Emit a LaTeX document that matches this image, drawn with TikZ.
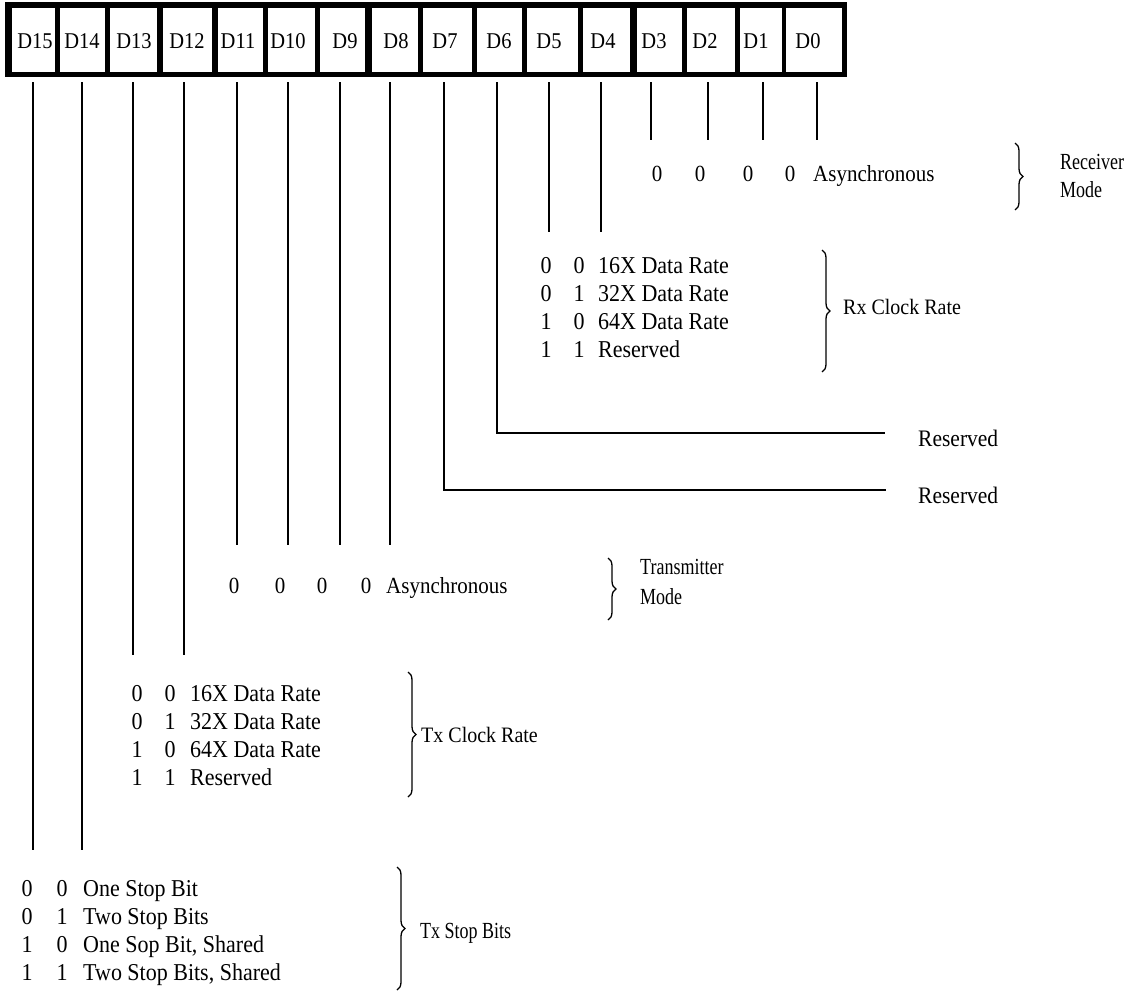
\documentclass[tikz,border=0pt]{standalone}
\usepackage{fontspec}
\usepackage{graphicx}
\setmainfont{Liberation Serif}
\usetikzlibrary{decorations.pathreplacing}
\newcommand\stx[1]{\scalebox{1}[1.1]{#1}}
\newcommand\ltx[1]{\scalebox{1}[1.28]{#1}}
\begin{document}
\begin{tikzpicture}[x=1pt,y=-1pt,
  conn/.style={line width=1.7pt},
  regtxt/.style={inner sep=0pt,font=\fontsize{20.5}{24}\selectfont,text height=15pt,text depth=0pt},
  dig/.style={inner sep=0pt,font=\fontsize{22}{26}\selectfont,text height=16pt,text depth=0pt},
  txt/.style={anchor=west,inner sep=0pt,font=\fontsize{22}{26}\selectfont,text height=16pt,text depth=0pt},
  mdig/.style={dig,font=\fontsize{21}{25}\selectfont},
  mtxt/.style={txt,font=\fontsize{21}{25}\selectfont},
  rtxt/.style={txt,font=\fontsize{21.5}{25}\selectfont},
  ltxt/.style={txt,font=\fontsize{18}{21}\selectfont,text height=15.5pt},
  ctxt/.style={txt,font=\fontsize{20}{24}\selectfont,text height=15pt},
  brc/.style={decorate,decoration={brace,amplitude=8pt},line width=1.3pt}]
\useasboundingbox (0,0) rectangle (1126,991);
\fill[white] (0,0) rectangle (1126,991);
% register
\node[fill=black,inner sep=0pt,minimum width=842pt,minimum height=75pt,anchor=north west] (reg) at (5,2) {};
\foreach \n/\l/\r/\t in {15/12/55/35, 14/60/105/82, 13/110/157/134, 12/163/212/187,
  11/218/263/238, 10/268/315/288, 9/320/365/345, 8/372/418/396, 7/423/472/445,
  6/477/522/499, 5/527/578/549, 4/583/630/603, 3/637/682/654, 2/687/735/705,
  1/740/782/756, 0/786/842/808}
{ \fill[white] (\l,8) rectangle (\r,72);
  \node[regtxt] (d\n) at (\t,41) {\stx{D\n}}; }
% vertical connectors
\foreach \n/\x/\e in {15/33/850, 14/82/850, 13/133/655, 12/184/655, 11/237/545,
  10/288/545, 9/340/545, 8/390/545, 5/549/232, 4/601/232, 3/651/140, 2/708/140,
  1/763/140, 0/817/140}
{ \coordinate (s\n) at (\x,82); \coordinate (e\n) at (\x,\e);
  \draw[conn] (s\n) -- (e\n); }
\coordinate (s7) at (444,82); \coordinate (k7) at (444,490); \coordinate (e7) at (886,490);
\draw[conn] (s7) -- (k7) -- (e7);
\coordinate (s6) at (497,82); \coordinate (k6) at (497,433); \coordinate (e6) at (885,433);
\draw[conn] (s6) -- (k6) -- (e6);
\node[rtxt] (res6) at (918,438) {\stx{Reserved}};
\node[rtxt] (res7) at (918,495) {\stx{Reserved}};
% receiver mode
\node[mdig] (rm3) at (657,173) {\stx{0}};
\node[mdig] (rm2) at (700,173) {\stx{0}};
\node[mdig] (rm1) at (748,173) {\stx{0}};
\node[mdig] (rm0) at (790,173) {\stx{0}};
\node[mtxt] (rmt) at (813,173) {\stx{Asynchronous}};
\draw[brc] (1015,143) -- (1015,210);
\node[ltxt] (rml1) at (1060,162) {\ltx{Receiver}};
\node[ltxt] (rml2) at (1060,190) {\ltx{Mode}};
% rx clock rate
\foreach \i/\a/\b/\t in {1/0/0/16X Data Rate, 2/0/1/32X Data Rate, 3/1/0/64X Data Rate, 4/1/1/Reserved}
{ \node[dig] (rxa\i) at (546,{237+28*\i}) {\stx{\a}};
  \node[dig] (rxb\i) at (579,{237+28*\i}) {\stx{\b}};
  \node[txt] (rxt\i) at (598,{237+28*\i}) {\stx{\t}}; }
\draw[brc] (822,250) -- (822,372);
\node[ctxt] (rxl) at (843,307) {\stx{Rx Clock Rate}};
% transmitter mode
\node[mdig] (tm11) at (234,585) {\stx{0}};
\node[mdig] (tm10) at (280,585) {\stx{0}};
\node[mdig] (tm9) at (322,585) {\stx{0}};
\node[mdig] (tm8) at (366,585) {\stx{0}};
\node[mtxt] (tmt) at (386,585) {\stx{Asynchronous}};
\draw[brc] (608,558) -- (608,620);
\node[ltxt] (tml1) at (640,567) {\ltx{Transmitter}};
\node[ltxt] (tml2) at (640,597) {\ltx{Mode}};
% tx clock rate
\foreach \i/\a/\b/\t in {1/0/0/16X Data Rate, 2/0/1/32X Data Rate, 3/1/0/64X Data Rate, 4/1/1/Reserved}
{ \node[dig] (txa\i) at (137,{665+28*\i}) {\stx{\a}};
  \node[dig] (txb\i) at (170,{665+28*\i}) {\stx{\b}};
  \node[txt] (txt\i) at (190,{665+28*\i}) {\stx{\t}}; }
\draw[brc] (408,672) -- (408,797);
\node[ctxt] (txl) at (421,735) {\stx{Tx Clock Rate}};
% tx stop bits
\foreach \i/\a/\b/\t in {1/0/0/One Stop Bit, 2/0/1/Two Stop Bits, 3/1/0/{One Sop Bit, Shared}, 4/1/1/{Two Stop Bits, Shared}}
{ \node[dig] (sba\i) at (27,{860+28*\i}) {\stx{\a}};
  \node[dig] (sbb\i) at (62,{860+28*\i}) {\stx{\b}};
  \node[txt] (sbt\i) at (83,{860+28*\i}) {\stx{\t}}; }
\draw[brc] (397,867) -- (397,990);
\node[ltxt] (sbl) at (420,931) {\ltx{Tx Stop Bits}};
\end{tikzpicture}
\end{document}
